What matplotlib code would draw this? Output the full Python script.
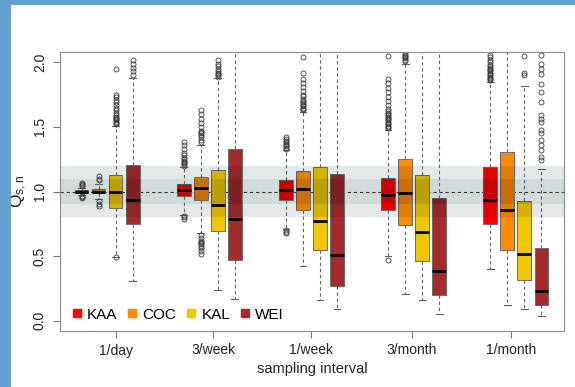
import matplotlib
matplotlib.use('Agg')
import matplotlib.pyplot as plt
from matplotlib.lines import Line2D
from matplotlib.patches import Rectangle

plt.rcParams['font.family'] = ['Liberation Sans', 'DejaVu Sans']
plt.rcParams['mathtext.fontset'] = 'custom'
plt.rcParams['mathtext.rm'] = 'Liberation Sans'
plt.rcParams['mathtext.it'] = 'Liberation Sans:italic'

groups = ['1/day', '3/week', '1/week', '3/month', '1/month']
sites = ['KAA', 'COC', 'KAL', 'WEI']
colors = ['#ff0000', '#ff8c00', '#f0c800', '#a52a2a']

# five-number summaries per site, one entry per sampling interval
# (whisker low, q1, median, q3, whisker high)
kaa_stats = [(0.975, 0.99, 1.00, 1.01, 1.025),
             (0.82, 0.962, 1.01, 1.059, 1.19),
             (0.71, 0.931, 1.008, 1.092, 1.32),
             (0.50, 0.854, 0.972, 1.107, 1.475),
             (0.40, 0.749, 0.936, 1.186, 1.845)]
coc_stats = [(0.94, 0.985, 1.00, 1.02, 1.06),
             (0.68, 0.936, 1.03, 1.11, 1.36),
             (0.42, 0.854, 1.018, 1.159, 1.615),
             (0.21, 0.742, 0.985, 1.25, 1.99),
             (0.12, 0.546, 0.86, 1.304, 2.3)]
kal_stats = [(0.495, 0.87, 0.998, 1.128, 1.51),
             (0.235, 0.693, 0.893, 1.166, 1.88),
             (0.157, 0.545, 0.768, 1.19, 2.3),
             (0.157, 0.46, 0.688, 1.128, 2.3),
             (0.09, 0.318, 0.52, 0.923, 1.82)]
wei_stats = [(0.31, 0.747, 0.933, 1.205, 1.88),
             (0.17, 0.47, 0.785, 1.33, 2.3),
             (0.088, 0.267, 0.51, 1.136, 2.3),
             (0.054, 0.198, 0.385, 0.946, 2.3),
             (0.04, 0.123, 0.231, 0.559, 1.176)]

# outliers
kaa_fliers = [[1.04, 1.05, 1.06, 1.067, 0.964, 0.955, 0.946],
              [1.20, 1.21, 1.22, 1.23, 1.24, 1.25, 1.26, 1.28, 1.30, 1.33, 1.36, 1.38,
               0.81, 0.80, 0.79],
              [1.33, 1.34, 1.35, 1.36, 1.37, 1.38, 1.39, 1.41, 1.42, 0.70, 0.69, 0.68],
              [1.49, 1.50, 1.51, 1.52, 1.53, 1.54, 1.55, 1.56, 1.57, 1.58, 1.59, 1.60, 1.61,
               1.62, 1.64, 1.67, 1.70, 1.73, 1.77, 1.80, 1.84, 1.87, 2.05, 0.466],
              [1.86, 1.87, 1.88, 1.89, 1.90, 1.91, 1.92, 1.93, 1.94, 1.95, 1.96, 1.97, 1.98,
               2.00, 2.02, 2.04, 2.06]]
coc_fliers = [[1.09, 1.10, 1.117, 0.925, 0.90, 0.887],
              [1.38, 1.40, 1.42, 1.44, 1.45, 1.46, 1.47, 1.50, 1.53, 1.56, 1.60, 1.63,
               0.66, 0.64, 0.62, 0.61, 0.60, 0.59, 0.58, 0.56, 0.54, 0.52],
              [1.63, 1.64, 1.65, 1.66, 1.67, 1.68, 1.69, 1.70, 1.72, 1.74, 1.75, 1.78, 1.81,
               1.84, 1.87, 1.92, 2.04],
              [2.01, 2.02, 2.03, 2.04, 2.05, 2.06, 2.07],
              []]
kal_fliers = [[1.52, 1.53, 1.54, 1.55, 1.56, 1.57, 1.58, 1.59, 1.61, 1.63, 1.65, 1.67, 1.69,
               1.71, 1.73, 1.75, 1.95, 0.49],
              [1.89, 1.90, 1.91, 1.92, 1.93, 1.95, 1.97, 1.99, 2.02],
              [],
              [],
              [1.90, 1.92, 2.05]]
wei_fliers = [[1.90, 1.93, 1.96, 1.99, 2.02],
              [],
              [],
              [],
              [1.245, 1.27, 1.32, 1.36, 1.40, 1.45, 1.475, 1.54, 1.565, 1.59,
               1.69, 1.77, 1.83, 1.91, 1.95, 1.99, 2.06]]

all_stats = [kaa_stats, coc_stats, kal_stats, wei_stats]
all_fliers = [kaa_fliers, coc_fliers, kal_fliers, wei_fliers]

fig = plt.figure(figsize=(5.75, 3.87), dpi=100)
fig.patch.set_facecolor('white')
# blue frame of the screenshot
fig.patches.append(Rectangle((0, 0), 11/575, 1, transform=fig.transFigure,
                             facecolor='#64a0d2', edgecolor='none'))
fig.patches.append(Rectangle((0, 1 - 5/387), 1, 5/387, transform=fig.transFigure,
                             facecolor='#64a0d2', edgecolor='none'))

ax = fig.add_axes([59.5/575, 1 - 331/387, 504.8/575, 279/387])

# tolerance bands behind everything
ax.axhspan(0.8, 1.2, color='#e3e9e9', lw=0, zorder=0)
ax.axhspan(0.9, 1.1, color='#cfdada', lw=0, zorder=0.1)
ax.axhline(1.0, color='#333333', lw=0.8, ls=(0, (3, 2.5)), zorder=1)

for i, (st, fl) in enumerate(zip(all_stats, all_fliers)):
    bstats = []
    for (lo, q1, med, q3, hi), f in zip(st, fl):
        bstats.append(dict(whislo=lo, q1=q1, med=med, q3=q3, whishi=hi, fliers=f))
    pos = [g * 6 + i + 1 for g in range(len(groups))]
    res = ax.bxp(bstats, positions=pos, widths=0.8, capwidths=0.4, patch_artist=True,
                 boxprops=dict(facecolor=colors[i], edgecolor='#6a6a6a', linewidth=0.7),
                 medianprops=dict(color='black', linewidth=2.0),
                 whiskerprops=dict(color='#606060', linewidth=0.8, linestyle=(0, (3, 2.5))),
                 capprops=dict(color='#606060', linewidth=0.8),
                 flierprops=dict(marker='o', markerfacecolor='none', markeredgecolor='#3a3a3a',
                                 markersize=3.6, markeredgewidth=0.6),
                 zorder=2)
    # the bands darken the part of each box that lies inside them
    for box in res['boxes']:
        for lo, hi in [(0.8, 1.2), (0.9, 1.1)]:
            shade = ax.axhspan(lo, hi, color='black', alpha=0.11, lw=0, zorder=2.05)
            shade.set_clip_path(box)

ax.set_xlim(-0.3, 29.35)
ax.set_ylim(-0.08, 2.08)
ax.set_xticks([3.0, 8.72, 14.45, 20.4, 26.2])
ax.set_xticklabels(groups)
ax.set_yticks([0, 0.5, 1.0, 1.5, 2.0])
ax.set_yticklabels(['0.0', '0.5', '1.0', '1.5', '2.0'], rotation=90, va='center')
ax.tick_params(axis='both', colors='#777777', labelcolor='#222222', labelsize=10,
               length=5, width=0.8)
ax.tick_params(axis='y', pad=4)
ax.tick_params(axis='x', pad=4)
for s in ax.spines.values():
    s.set_color('#8a8a8a')
    s.set_linewidth(0.8)

ax.set_xlabel('sampling interval', fontsize=10.5, color='#222222', labelpad=3)
ax.set_ylabel(r'Q$_{\mathrm{s,n}}$', fontsize=12.5, color='#222222', labelpad=3)

handles = [Line2D([], [], marker='s', ls='', color=c, markersize=5.5) for c in colors]
leg = ax.legend(handles, sites, ncol=4, loc='center left', bbox_to_anchor=(0.022, 0.058),
                frameon=False, fontsize=11, handlelength=0.8, handletextpad=0.25,
                columnspacing=0.6, borderpad=0, borderaxespad=0)
leg.set_zorder(6)

fig.savefig('out.png', dpi=100)
